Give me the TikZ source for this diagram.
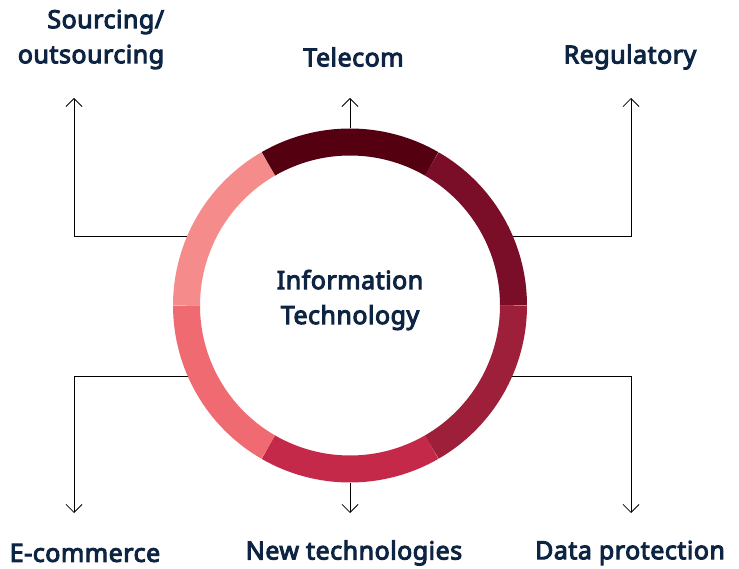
\documentclass[tikz,border=0pt]{standalone}
\usepackage{fontspec}
\setmainfont{Noto Sans}[BoldFont={Noto Sans}, BoldFeatures={FakeBold=4, LetterSpace=2}]
\usetikzlibrary{calc,positioning,arrows.meta}
\definecolor{navy}{HTML}{0D2442}
\definecolor{segA}{HTML}{540010}
\definecolor{segB}{HTML}{7A0E28}
\definecolor{segC}{HTML}{9D1F3A}
\definecolor{segD}{HTML}{C5294A}
\definecolor{segE}{HTML}{F06A71}
\definecolor{segF}{HTML}{F58B8A}
\tikzstyle{label}  = [text=navy, font=\fontsize{25}{35}\selectfont\bfseries]
\tikzstyle{arrow}  = [line width=0.8pt, ->, >={Straight Barb[length=8pt,width=16pt]}]
\tikzstyle{seg}    = [line width=27pt]

\begin{document}
\begin{tikzpicture}[x=1pt,y=1pt]
		\useasboundingbox (0,0) rectangle (739,568);
		\coordinate (c) at (350,262.5);

		% labels
		\node[label, align=right] (src) at (91,528.5) {Sourcing/\\outsourcing};
		\node[label] (tel) at (353.5,511) {Telecom};
		\node[label] (reg) at (630,511) {Regulatory};
		\node[label] (ecom) at (85,15) {E-commerce};
		\node[label] (newt) at (354,15) {New technologies};
		\node[label] (data) at (630,15) {Data protection};

		% arrow ends
		\coordinate (srcend) at (74,470);
		\coordinate (telend) at (350,470);
		\coordinate (regend) at (631,470);
		\coordinate (ecomend) at (74,55);
		\coordinate (newtend) at (350,55);
		\coordinate (dataend) at (631,55);

		% connectors
		\draw[arrow] ($(c)+(-163,69.5)$) -| (srcend);
		\draw[arrow] ($(c)+(0,177)$) -- (telend);
		\draw[arrow] ($(c)+(163,69.5)$) -| (regend);
		\draw[arrow] ($(c)+(-162,-70.5)$) -| (ecomend);
		\draw[arrow] ($(c)+(0,-177)$) -- (newtend);
		\draw[arrow] ($(c)+(162,-70.5)$) -| (dataend);

		% ring
		\foreach \a/\col in {60/segA, 0/segB, -60/segC, 240/segD, 180/segE, 120/segF}
			\draw[seg, \col] ($(c)+(\a:163.5)$) arc (\a:\a+60:163.5);

		\node[label, align=center] (it) at (c) [yshift=5.5pt] {Information\\Technology};
	\end{tikzpicture}
\end{document}
